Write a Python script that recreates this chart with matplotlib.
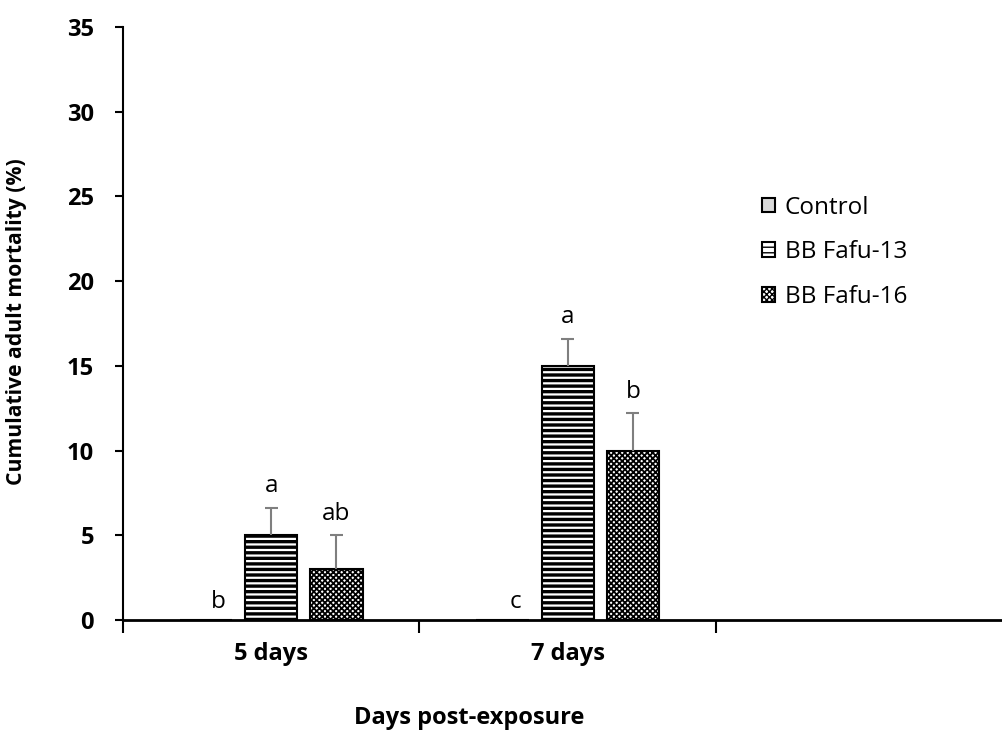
import numpy as np
import matplotlib.pyplot as plt
from matplotlib import font_manager
from matplotlib.ticker import FixedLocator

# data
days = ["5 days", "7 days"]
series = ["Control", "BB Fafu-13", "BB Fafu-16"]
control = [0, 0]
fafu13 = [5, 15]
fafu16 = [3, 10]
control_err = [0, 0]
fafu13_err = [1.6, 1.6]
fafu16_err = [2.0, 2.2]
control_letters = ["b", "c"]
fafu13_letters = ["a", "a"]
fafu16_letters = ["ab", "b"]


def has_bold(family):
    try:
        path = font_manager.findfont(font_manager.FontProperties(family=family, weight="bold"),
                                     fallback_to_default=False)
    except Exception:
        return False
    return "bold" in path.lower()


family = "Liberation Sans"
for cand in ["Open Sans", "Lato", "Noto Sans", "Roboto"]:
    if has_bold(cand):
        family = cand
        break
plt.rcParams["font.family"] = [family, "DejaVu Sans"]

fig = plt.figure(figsize=(10.03, 7.31), dpi=100)
ax = fig.add_axes([123 / 1003, 1 - 620 / 731, 880 / 1003, 593 / 731])

x = np.arange(len(days))
step = 0.22
width = 0.176
cap = 0.022

styles = [
    dict(facecolor="#d9d9d9", hatch=None, hlw=1.0),
    dict(facecolor="white", hatch="---", hlw=2.4),
    dict(facecolor="white", hatch="xxxxxx", hlw=1.3),
]
values = [control, fafu13, fafu16]
errs = [control_err, fafu13_err, fafu16_err]
letters = [control_letters, fafu13_letters, fafu16_letters]

handles = []
for i, (name, vals, err, lets, st) in enumerate(zip(series, values, errs, letters, styles)):
    pos = x + (i - 1) * step
    with plt.rc_context({"hatch.linewidth": st["hlw"], "hatch.color": "black"}):
        bars = ax.bar(pos, vals, width, facecolor=st["facecolor"], edgecolor="black",
                      linewidth=1.5, hatch=st["hatch"], label=name, zorder=2)
    handles.append(bars)
    for p, v, e in zip(pos, vals, err):
        if e > 0:
            ax.vlines(p, v, v + e, color="#7f7f7f", linewidth=1.5, zorder=3)
            ax.hlines(v + e, p - cap, p + cap, color="#7f7f7f", linewidth=1.5, zorder=3)
    for p, v, e, t in zip(pos, vals, err, lets):
        dx = 9 if v == 0 else 0
        dy = 4 if v == 0 else 7
        ax.annotate(t, (p, v + e), xytext=(dx, dy), textcoords="offset points",
                    ha="center", va="bottom", fontsize=17.5)

ax.set_ylim(0, 35)
ax.set_xlim(-0.5, 2.468)
ax.set_yticks(range(0, 36, 5))
ax.set_yticklabels([str(v) for v in range(0, 36, 5)], fontweight="bold", fontsize=17)
ax.tick_params(axis="y", length=6, width=1.5, pad=15)

ax.set_xticks(x)
ax.set_xticklabels(days, fontweight="bold", fontsize=17)
ax.tick_params(axis="x", which="major", length=0, pad=16)
ax.xaxis.set_minor_locator(FixedLocator([-0.5, 0.5, 1.5]))
ax.tick_params(axis="x", which="minor", length=9, width=1.5)

for s in ["top", "right"]:
    ax.spines[s].set_visible(False)
ax.spines["left"].set_linewidth(1.5)
ax.spines["bottom"].set_linewidth(2)
ax.spines["bottom"].set_zorder(4)

fig.text(17 / 1003, 1 - 322 / 731, "Cumulative adult mortality (%)", rotation=90,
         ha="center", va="center", fontweight="bold", fontsize=15.2)
fig.text(469 / 1003, 1 - 718 / 731, "Days post-exposure", ha="center", va="center",
         fontweight="bold", fontsize=17)

leg = ax.legend(handles=handles, loc="upper left", bbox_to_anchor=(752 / 1003, 1 - 186 / 731),
                bbox_transform=fig.transFigure, frameon=False, fontsize=17.5,
                handlelength=0.55, handleheight=0.55, handletextpad=0.4, labelspacing=0.85,
                borderaxespad=0)

fig.savefig("out.png", dpi=100)
